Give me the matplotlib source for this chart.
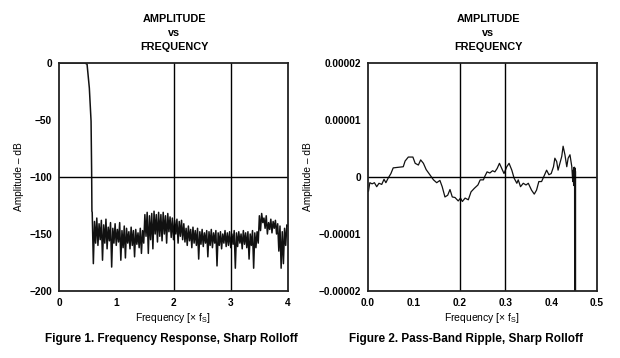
import matplotlib
matplotlib.use("Agg")
import matplotlib.pyplot as plt
import numpy as np

plt.rcParams['font.family'] = ['Liberation Sans', 'DejaVu Sans']

# Figure 1: frequency response (dB)
rolloff_f = [0.0, 0.45, 0.49, 0.53, 0.56, 0.57, 0.575]
rolloff_db = [0, 0, -1, -22, -51, -95, -130]

stop_f0, stop_f1 = 0.58, 4.0
stop_db = [
    -131, -176, -139, -158, -136, -160, -141, -155, -138, -173,
    -142, -158, -137, -163, -144, -156, -140, -179, -145, -158,
    -141, -160, -146, -157, -140, -173, -147, -162, -143, -171,
    -145, -158, -148, -163, -144, -160, -147, -170, -146, -159,
    -149, -162, -145, -167, -147, -158, -133, -152, -131, -167,
    -134, -155, -132, -163, -130, -150, -133, -157, -131, -152,
    -133, -156, -131, -150, -134, -158, -132, -148, -135, -153,
    -136, -155, -138, -150, -137, -158, -139, -152, -138, -155,
    -141, -157, -145, -160, -143, -156, -146, -162, -144, -158,
    -147, -160, -145, -172, -148, -159, -146, -161, -149, -158,
    -147, -170, -148, -160, -146, -162, -149, -158, -147, -178,
    -149, -160, -148, -163, -150, -158, -147, -161, -149, -160,
    -148, -162, -150, -159, -147, -180, -149, -161, -148, -158,
    -150, -163, -147, -159, -149, -162, -148, -172, -150, -160,
    -147, -180, -149, -162, -148, -158, -134, -147, -132, -140,
    -136, -145, -134, -150, -140, -146, -137, -149, -139, -145,
    -138, -150, -141, -165, -143, -180, -148, -176, -145, -160,
    -142, -143,
]

# Figure 2: pass-band ripple, values in units of 1e-5
ripple_f = [
    0.001, 0.004, 0.009, 0.014, 0.019, 0.024, 0.030, 0.035, 0.039, 0.044,
    0.050, 0.055, 0.066, 0.077, 0.081, 0.088, 0.098, 0.103, 0.110, 0.115,
    0.121, 0.127, 0.135, 0.143, 0.150, 0.157, 0.162, 0.168, 0.174, 0.179,
    0.184, 0.190, 0.197, 0.202, 0.206, 0.212, 0.219, 0.225, 0.232, 0.240,
    0.245, 0.252, 0.255, 0.260, 0.266, 0.272, 0.277, 0.282, 0.287, 0.292,
    0.297, 0.303, 0.308, 0.314, 0.319, 0.325, 0.328, 0.333, 0.339, 0.345,
    0.350, 0.357, 0.363, 0.368, 0.373, 0.379, 0.384, 0.390, 0.395, 0.400,
    0.405, 0.408, 0.412, 0.415, 0.419, 0.423, 0.426, 0.430, 0.434, 0.437,
    0.441, 0.445, 0.447, 0.448, 0.449, 0.450, 0.4505, 0.451, 0.4515, 0.452,
    0.4525, 0.453, 0.4535,
]
ripple_e5 = [
    -0.25, -0.10, -0.12, -0.10, -0.17, -0.11, -0.13, -0.04, -0.10, -0.02,
    0.06, 0.16, 0.17, 0.18, 0.28, 0.35, 0.35, 0.24, 0.21, 0.30,
    0.24, 0.13, 0.04, -0.05, -0.10, -0.06, -0.17, -0.35, -0.32, -0.22,
    -0.35, -0.36, -0.42, -0.37, -0.43, -0.37, -0.40, -0.26, -0.20, -0.14,
    -0.05, -0.05, 0.01, 0.09, 0.07, 0.11, 0.09, 0.15, 0.24, 0.15,
    0.06, 0.18, 0.24, 0.12, -0.02, -0.11, -0.05, -0.17, -0.11, -0.14,
    -0.11, -0.23, -0.30, -0.23, -0.08, -0.08, 0.01, 0.12, 0.04, 0.06,
    0.18, 0.33, 0.27, 0.12, 0.24, 0.36, 0.54, 0.39, 0.18, 0.33,
    0.39, 0.18, -0.08, 0.12, -0.15, 0.17, -0.10, 0.17, -5.0, 0.15,
    -5.0, 0.10, -5.0,
]

fig = plt.figure(figsize=(6.2, 3.58), dpi=100)
ax1 = fig.add_axes([59 / 620, 1 - 291 / 358, 229 / 620, 228 / 358])
ax2 = fig.add_axes([368 / 620, 1 - 291 / 358, 229 / 620, 228 / 358])

stop_f = np.linspace(stop_f0, stop_f1, len(stop_db))
ax1.plot(rolloff_f + list(stop_f), rolloff_db + stop_db, color='#111111', lw=1.1)
ax1.set_xlim(0, 4)
ax1.set_ylim(-200, 0)
ax1.set_xticks([0, 1, 2, 3, 4])
ax1.set_yticks([0, -50, -100, -150, -200])
ax1.set_yticklabels(['0', '\u221250', '\u2212100', '\u2212150', '\u2212200'])
for v in [2, 3]:
    ax1.axvline(v, color='black', lw=1)
ax1.axhline(-100, color='black', lw=1)

ax2.plot(ripple_f, np.array(ripple_e5) * 1e-5, color='#111111', lw=0.9)
ax2.set_xlim(0, 0.5)
ax2.set_ylim(-0.00002, 0.00002)
ax2.set_xticks([0.0, 0.1, 0.2, 0.3, 0.4, 0.5])
ax2.set_xticklabels(['0.0', '0.1', '0.2', '0.3', '0.4', '0.5'])
ax2.set_yticks([0.00002, 0.00001, 0, -0.00001, -0.00002])
ax2.set_yticklabels(['0.00002', '0.00001', '0', '\u22120.00001', '\u22120.00002'])
for v in [0.2, 0.3]:
    ax2.axvline(v, color='black', lw=1)
ax2.axhline(0, color='black', lw=1)

for ax in (ax1, ax2):
    for s in ax.spines.values():
        s.set_linewidth(1.3)
        s.set_color('#222222')
    ax.tick_params(length=0, pad=5, labelsize=7.3)
    for lab in ax.get_xticklabels() + ax.get_yticklabels():
        lab.set_fontweight('bold')
    ax.set_xlabel('Frequency [\u00d7 f$_\\mathregular{S}$]', fontsize=7.5, labelpad=2)
    ax.set_ylabel('Amplitude \u2013 dB', fontsize=7.3, labelpad=4)

fig.text(174 / 620, 1 - 33 / 358, 'AMPLITUDE\nvs\nFREQUENCY', ha='center', va='center',
         fontsize=7.8, fontweight='bold', linespacing=1.45)
fig.text(488 / 620, 1 - 33 / 358, 'AMPLITUDE\nvs\nFREQUENCY', ha='center', va='center',
         fontsize=7.8, fontweight='bold', linespacing=1.45)
fig.text(171 / 620, 1 - 339 / 358, 'Figure 1. Frequency Response, Sharp Rolloff',
         ha='center', va='center', fontsize=8.5, fontweight='bold')
fig.text(466 / 620, 1 - 339 / 358, 'Figure 2. Pass-Band Ripple, Sharp Rolloff',
         ha='center', va='center', fontsize=8.5, fontweight='bold')

fig.savefig('out.png', dpi=100)
